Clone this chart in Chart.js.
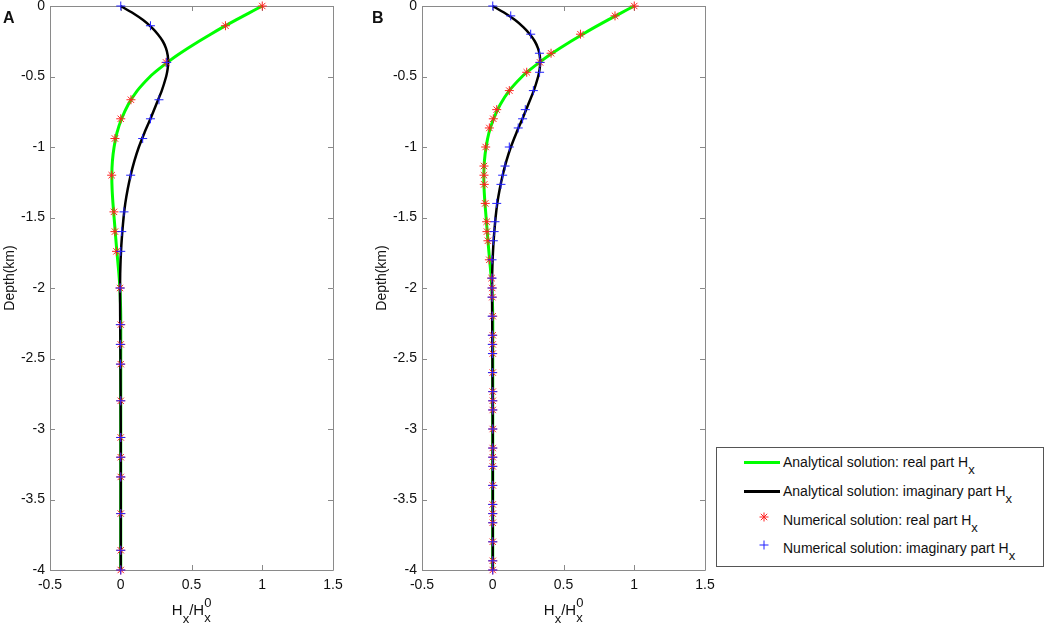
<!DOCTYPE html>
<html>
<head>
<meta charset="utf-8">
<script src="https://cdn.jsdelivr.net/npm/chart.js@4.4.1/dist/chart.umd.min.js"></script>
<style>
	body { margin: 0; background: #fff; font-family: "Liberation Sans", Arial, sans-serif; color: #111; }
	#page { position: relative; width: 1045px; height: 626px; overflow: hidden; }
	canvas { position: absolute; top: 0; }
	.tag { position: absolute; top: 9px; font-size: 16px; font-weight: bold; line-height: 18px; }
	.ytitle { position: absolute; top: 270px; width: 120px; line-height: 16px; font-size: 14px; text-align: center; transform: rotate(-90deg); }
	.xtitle { position: absolute; top: 601px; width: 80px; line-height: 18px; font-size: 15px; text-align: center; white-space: nowrap; }
	.dn1 { position: relative; top: 8px; font-size: 13px; }
	.ss { display: inline-block; position: relative; width: 8px; height: 1px; }
	.ss i { position: absolute; left: 0; font-style: normal; font-size: 13px; line-height: 15px; }
	.ss .up { top: -19px; }
	.ss .dn { top: -4px; }
	#legend { position: absolute; left: 716px; top: 447px; width: 326px; height: 118px; border: 1px solid #555; background: #fff; }
	#legend .row { position: absolute; left: 0; width: 326px; height: 16px; }
	#legend .swatch { position: absolute; left: 27px; width: 36px; }
	#legend svg { position: absolute; left: 41px; top: -2px; }
	#legend .txt { position: absolute; left: 66px; top: -1px; font-size: 14px; line-height: 16px; white-space: nowrap; }
	#legend .txt span { position: relative; top: 7px; font-size: 13px; }
</style>
</head>
<body>
<div id="page">
	<canvas id="chartA" width="360" height="626" style="left:0px"></canvas>
	<canvas id="chartB" width="360" height="626" style="left:372px"></canvas>

	<div class="tag" style="left:3px">A</div>
	<div class="tag" style="left:372px">B</div>

	<div class="ytitle" style="left:-51px">Depth(km)</div>
	<div class="ytitle" style="left:321px">Depth(km)</div>

	<div class="xtitle" style="left:152px">H<span class="dn1">x</span>/H<span class="ss"><i class="up">0</i><i class="dn">x</i></span></div>
	<div class="xtitle" style="left:524px">H<span class="dn1">x</span>/H<span class="ss"><i class="up">0</i><i class="dn">x</i></span></div>

	<div id="legend">
		<div class="row" style="top:7px">
			<div class="swatch" style="top:6px;height:3px;background:#00ff00"></div>
			<div class="txt">Analytical solution: real part H<span>x</span></div>
		</div>
		<div class="row" style="top:36px">
			<div class="swatch" style="top:6px;height:3px;background:#000"></div>
			<div class="txt">Analytical solution: imaginary part H<span>x</span></div>
		</div>
		<div class="row" style="top:65px">
			<svg width="12" height="12" viewBox="-6 -6 12 12"><g stroke="#ff2020" stroke-width="1"><line x1="-4.5" y1="0" x2="4.5" y2="0"/><line x1="0" y1="-4.5" x2="0" y2="4.5"/><line x1="-3.2" y1="-3.2" x2="3.2" y2="3.2"/><line x1="-3.2" y1="3.2" x2="3.2" y2="-3.2"/></g></svg>
			<div class="txt">Numerical solution: real part H<span>x</span></div>
		</div>
		<div class="row" style="top:93px">
			<svg width="12" height="12" viewBox="-6 -6 12 12"><g stroke="#2020ff" stroke-width="1"><line x1="-4.5" y1="0" x2="4.5" y2="0"/><line x1="0" y1="-4.5" x2="0" y2="4.5"/></g></svg>
			<div class="txt">Numerical solution: imaginary part H<span>x</span></div>
		</div>
	</div>
</div>

<script>
// analytical solution (same in both panels)
const depthAna = [0, -0.05, -0.1, -0.15, -0.2, -0.25, -0.3, -0.35, -0.4, -0.45, -0.5, -0.6, -0.7, -0.8, -0.9, -1.0,
	-1.1, -1.2, -1.3, -1.4, -1.5, -1.6, -1.7, -1.8, -1.9, -2.0, -2.2, -2.5, -3.0, -3.5, -4.0];
const realAna = [1.0, 0.905, 0.812, 0.722, 0.636, 0.553, 0.474, 0.399, 0.33, 0.266, 0.208, 0.117, 0.052, 0.006, -0.027, -0.047,
	-0.059, -0.063, -0.061, -0.055, -0.047, -0.039, -0.031, -0.022, -0.013, -0.006, 0, 0, 0, 0, 0];
const imagAna = [0, 0.085, 0.158, 0.216, 0.262, 0.297, 0.320, 0.332, 0.335, 0.331, 0.321, 0.29, 0.25, 0.21, 0.167, 0.128,
	0.096, 0.07, 0.049, 0.032, 0.02, 0.011, 0.004, -0.001, -0.004, -0.005, -0.004, -0.002, 0, 0, 0];

// panel A, numerical solution
const depthsA = [0, -0.14, -0.4, -0.665, -0.8, -0.94, -1.2, -1.46, -1.6, -1.74, -2.0, -2.26, -2.4, -2.54, -2.8,
	-3.06, -3.2, -3.34, -3.6, -3.86, -4.0];
const realA = [1.0, 0.74, 0.32, 0.072, 0.0, -0.041, -0.064, -0.048, -0.041, -0.03, -0.005, 0, 0, 0, 0, 0, 0, 0, 0, 0, 0];
const imagA = [0.0, 0.21, 0.325, 0.27, 0.21, 0.155, 0.07, 0.023, 0.007, 0.0, -0.004, -0.003, -0.003, -0.002, 0, 0, 0, 0, 0, 0, 0];

// panel B, numerical solution
const depthsB = [0, -0.07, -0.2, -0.335, -0.4, -0.47, -0.6, -0.735, -0.8, -0.865, -1.0, -1.135, -1.2, -1.265, -1.4,
	-1.53, -1.6, -1.665, -1.8, -1.93, -2.0, -2.065, -2.2, -2.335, -2.4, -2.465, -2.6, -2.735, -2.8, -2.865, -3.0,
	-3.135, -3.2, -3.265, -3.4, -3.535, -3.6, -3.665, -3.8, -3.935, -4.0];
const realB = [1.0, 0.864, 0.62, 0.412, 0.334, 0.24, 0.117, 0.028, 0.004, -0.024, -0.05, -0.062, -0.062, -0.06, -0.053,
	-0.043, -0.041, -0.034, -0.024, -0.008, -0.004, -0.003, 0, 0, 0, 0, 0, 0, 0, 0, 0,
	0, 0, 0, 0, 0, 0, 0, 0, 0, 0];
const imagB = [0, 0.127, 0.268, 0.33, 0.334, 0.331, 0.287, 0.23, 0.211, 0.18, 0.117, 0.087, 0.07, 0.058, 0.028,
	0.016, 0.01, 0.004, -0.005, -0.005, -0.005, -0.005, -0.004, -0.003, -0.003, -0.002, -0.002, 0, 0, 0, 0,
	0, 0, 0, 0, 0, 0, 0, 0, 0, 0];

const xTicks = [-0.5, 0, 0.5, 1, 1.5];
const yTicks = [0, -0.5, -1, -1.5, -2, -2.5, -3, -3.5, -4];

const AXIS_COLOR = `#8a8a8a`;
const FONT = `"Liberation Sans", Arial, sans-serif`;

const toPoints = (xs, ys) => xs.map((v, i) => ({x: v, y: ys[i]}));

// matlab style frame with inward ticks on all four sides
const boxAxes = {
	id: `boxAxes`,
	beforeDatasetsDraw(chart) {
		const {ctx, chartArea: a, scales: {x, y}} = chart;
		ctx.save();
		ctx.strokeStyle = AXIS_COLOR;
		ctx.lineWidth = 1;
		ctx.beginPath();
		ctx.rect(a.left + 0.5, a.top + 0.5, a.right - a.left, a.bottom - a.top);
		x.ticks.forEach(t => {
			const px = Math.round(x.getPixelForValue(t.value)) + 0.5;
			ctx.moveTo(px, a.bottom); ctx.lineTo(px, a.bottom - 5);
			ctx.moveTo(px, a.top); ctx.lineTo(px, a.top + 5);
		});
		y.ticks.forEach(t => {
			const py = Math.round(y.getPixelForValue(t.value)) + 0.5;
			ctx.moveTo(a.left, py); ctx.lineTo(a.left + 5, py);
			ctx.moveTo(a.right, py); ctx.lineTo(a.right - 5, py);
		});
		ctx.stroke();
		ctx.restore();
	}
};

function makeChart(canvasId, depths, real, imag) {
	return new Chart(document.getElementById(canvasId), {
		type: `scatter`,
		data: {
			datasets: [
				{
					type: `line`,
					label: `Analytical solution: real part`,
					data: toPoints(realAna, depthAna),
					borderColor: `#00ff00`,
					borderWidth: 3,
					pointRadius: 0,
					tension: 0.2,
					clip: false,
					order: 3
				},
				{
					type: `line`,
					label: `Analytical solution: imaginary part`,
					data: toPoints(imagAna, depthAna),
					borderColor: `#000000`,
					borderWidth: 2.5,
					pointRadius: 0,
					tension: 0.2,
					clip: false,
					order: 2
				},
				{
					label: `Numerical solution: real part`,
					data: toPoints(real, depths),
					pointStyle: `star`,
					pointRadius: 4.5,
					borderColor: `#ff2020`,
					backgroundColor: `#ff2020`,
					borderWidth: 1,
					clip: false,
					order: 1
				},
				{
					label: `Numerical solution: imaginary part`,
					data: toPoints(imag, depths),
					pointStyle: `cross`,
					pointRadius: 4.5,
					borderColor: `#2020ff`,
					backgroundColor: `#2020ff`,
					borderWidth: 1,
					clip: false,
					order: 0
				}
			]
		},
		options: {
			responsive: false,
			animation: false,
			events: [],
			layout: {padding: {top: 6, left: 0, right: 27, bottom: 0}},
			plugins: {legend: {display: false}, tooltip: {enabled: false}},
			scales: {
				x: {
					type: `linear`,
					min: -0.5,
					max: 1.5,
					grid: {display: false, drawTicks: false},
					border: {display: false},
					afterBuildTicks: scale => { scale.ticks = xTicks.map(v => ({value: v})); },
					ticks: {color: `#111`, padding: 7, autoSkip: false, maxRotation: 0, font: {size: 14, family: FONT},
						callback: value => `${value}`},
					afterFit: scale => { scale.height = 56; scale.paddingLeft = 0; scale.paddingRight = 0; }
				},
				y: {
					type: `linear`,
					min: -4,
					max: 0,
					grid: {display: false, drawTicks: false},
					border: {display: false},
					afterBuildTicks: scale => { scale.ticks = yTicks.map(v => ({value: v})); },
					ticks: {color: `#111`, padding: 5, autoSkip: false, font: {size: 14, family: FONT},
						callback: value => `${value}`},
					afterFit: scale => { scale.width = 50; scale.paddingTop = 0; scale.paddingBottom = 0; }
				}
			}
		},
		plugins: [boxAxes]
	});
}

makeChart(`chartA`, depthsA, realA, imagA);
makeChart(`chartB`, depthsB, realB, imagB);
</script>
</body>
</html>
